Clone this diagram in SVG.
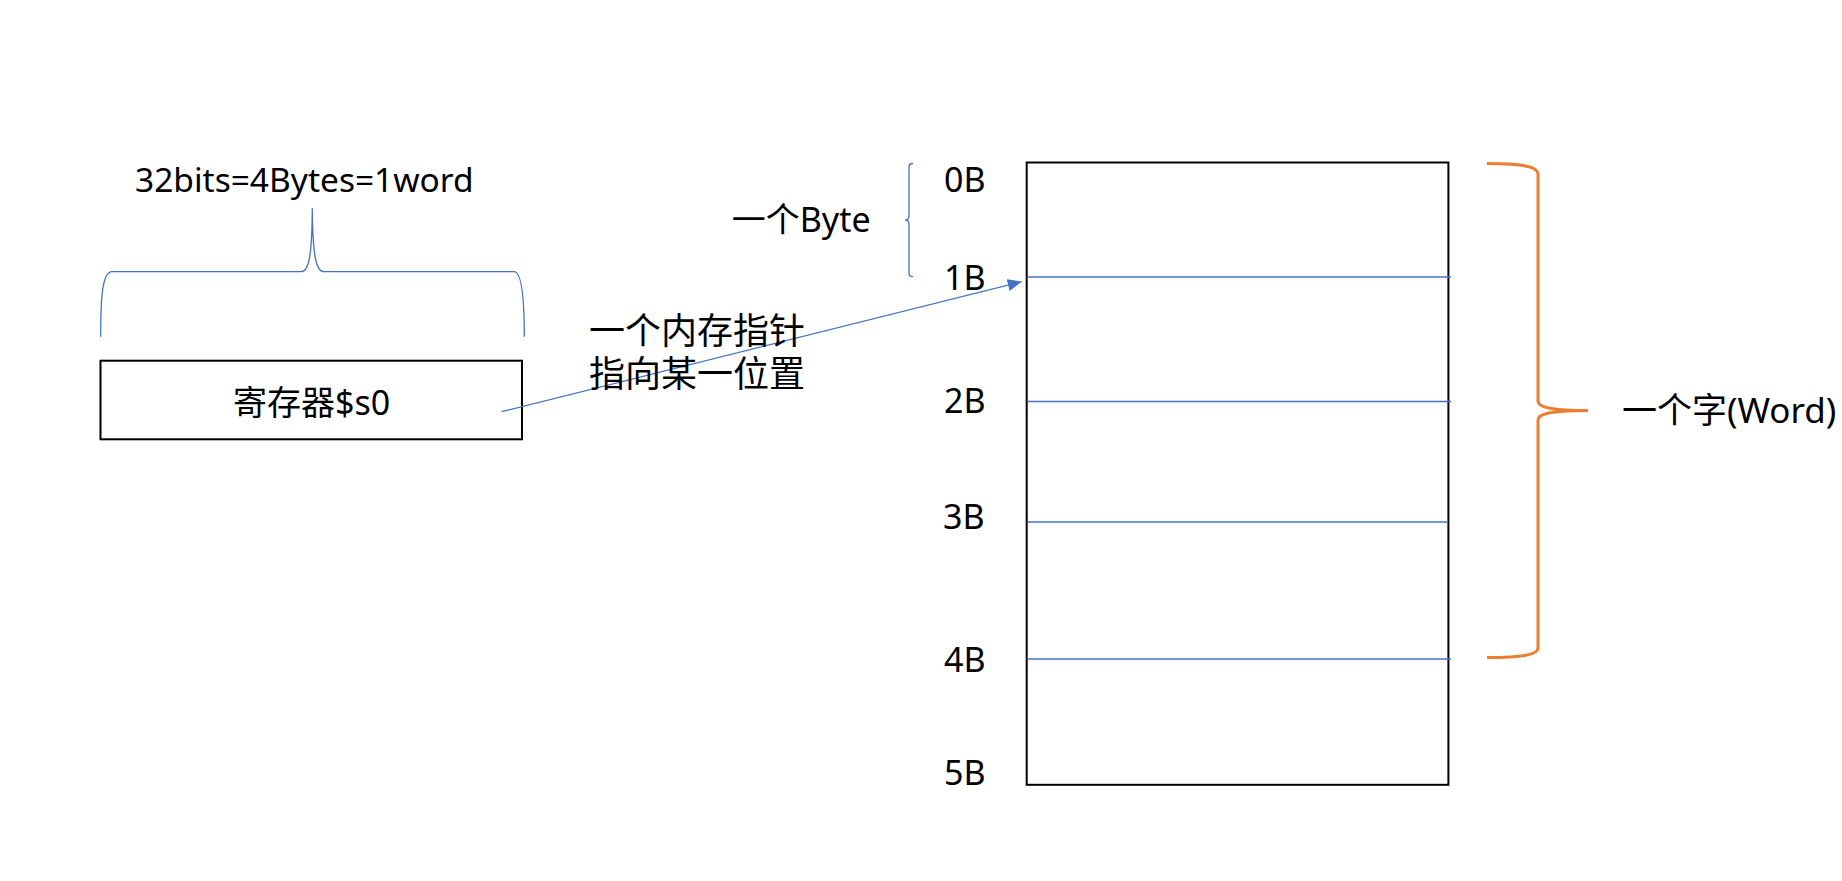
<svg xmlns="http://www.w3.org/2000/svg" width="1842" height="881" viewBox="0 0 1842 881">
<style>
.t{font-family:"Noto Sans","Noto Sans CJK SC",sans-serif;font-size:34px;fill:#000}
.c{font-family:"Noto Sans CJK SC",sans-serif;font-size:36px;fill:#000}
.blue{fill:none;stroke:#4472C4;stroke-width:1.3}
.box{fill:#fff;stroke:#000;stroke-width:2}
.orange{fill:none;stroke:#ED7D31;stroke-width:3}
</style>
<defs>
<marker id="arr" markerUnits="userSpaceOnUse" markerWidth="16" markerHeight="12" refX="14" refY="6" orient="auto">
<path d="M0,0 L14,6 L0,12 Z" fill="#4472C4"/>
</marker>
</defs>
<rect width="1842" height="881" fill="#fff"/>
<g id="register">
<rect class="box" x="100.5" y="360.7" width="421.5" height="78.6"/>
<text class="t" x="233" y="415">寄存器$s0</text>
</g>
<g id="word-brace-top">
<path class="blue" d="M100.7,336.7 C100.7,300 102,271.7 112,271.7 L301,271.7 C309,271.7 312,255 312.3,208.3 C312.6,255 316,271.7 324,271.7 L514,271.7 C522,271.7 524.3,300 524.3,336.7"/>
<text class="t" x="135" y="192" style="font-size:33.5px">32bits=4Bytes=1word</text>
</g>
<g id="memory">
<rect class="box" x="1026.7" y="162.5" width="421.7" height="622.3"/>
<line class="blue" x1="1027" y1="277" x2="1451" y2="277"/>
<line class="blue" x1="1027" y1="401.5" x2="1451" y2="401.5"/>
<line class="blue" x1="1027" y1="522" x2="1448" y2="522"/>
<line class="blue" x1="1027" y1="659" x2="1451" y2="659"/>
<text class="t" x="944" y="191.7">0B</text>
<text class="t" x="944" y="290">1B</text>
<text class="t" x="944" y="413.3">2B</text>
<text class="t" x="943" y="529.3">3B</text>
<text class="t" x="944" y="671.7">4B</text>
<text class="t" x="944" y="785">5B</text>
</g>
<g id="byte-bracket">
<path class="blue" d="M913,163.5 Q909,163.5 909,167 L909,216 Q909,220 905,220 Q909,220 909,224 L909,273 Q909,276.7 913,276.7"/>
<text class="t" x="731.7" y="231.7">一个Byte</text>
</g>
<g id="word-brace">
<path class="orange" d="M1487,163.5 C1525,163.5 1538,167 1538,174 L1538,401 C1538,407 1550,410.5 1588,410.5 C1550,410.5 1538,414 1538,420 L1538,648 C1538,654 1525,657.5 1487,657.5"/>
<text class="t" x="1622" y="423" style="font-size:35px">一个字(Word)</text>
</g>
<g id="connectors">
<line x1="501.7" y1="411.7" x2="1021.7" y2="281.7" stroke="#4472C4" stroke-width="1.3" marker-end="url(#arr)"/>
</g>
<g id="pointer-label">
<text class="c"><tspan x="589" y="344">一个内存指针</tspan><tspan x="589" y="387">指向某一位置</tspan></text>
</g>
</svg>
